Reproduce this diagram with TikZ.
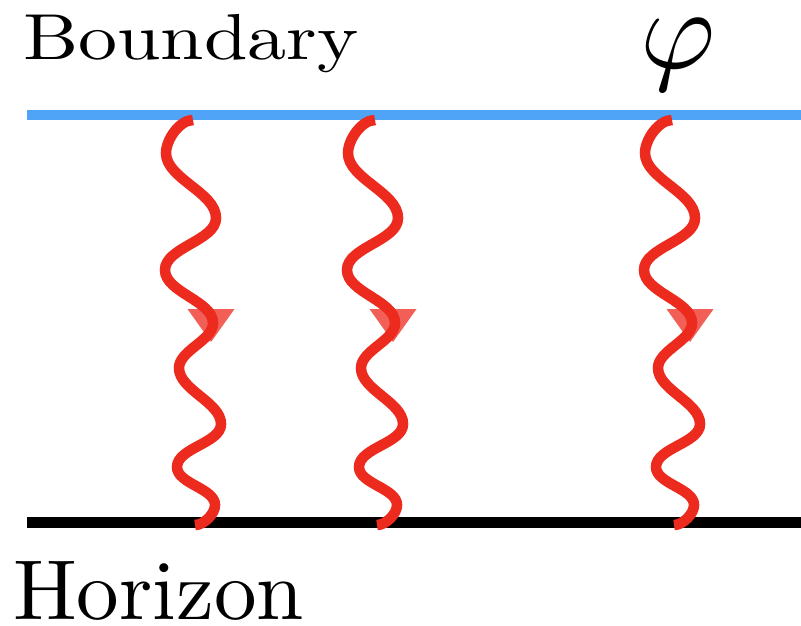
\documentclass[tikz,border=0pt]{standalone}
\usepackage{amsmath,amssymb}
\usepackage{xcolor}
\usepackage{tikz}
\usetikzlibrary{calc,positioning}
\definecolor{bdryblue}{RGB}{79,164,247}
\definecolor{wavered}{RGB}{236,42,30}

\begin{document}
\begin{tikzpicture}[
  wave/.style={wavered,line width=3pt,looseness=0.8},
  flowtri/.style={fill=wavered,fill opacity=0.75},
  edge/.style={line width=3.1pt}]
\useasboundingbox (0,0) rectangle (8.01,6.25);
% boundary and horizon
\draw[edge,bdryblue] (0.27,5.10) coordinate (bl) -- (8.01,5.10) coordinate (br);
\draw[edge,black] (0.27,1.025) coordinate (hl) -- (8.01,1.025) coordinate (hr);
\node[anchor=base west,inner sep=0] (bdry) at (0.223,5.655) {\scalebox{2.22}[1.85]{Boundary}};
\node[anchor=base west,inner sep=0] (hor) at (0.123,0.06) {\scalebox{2.42}{Horizon}};
\node[anchor=base west,inner sep=0] (phi) at (6.40,5.57) {\scalebox{3.27}{$\varphi$}};
% infalling waves
\foreach \x/\n in {1.93/a,3.75/b,6.72/c}{
\begin{scope}[xshift=\x cm]
  \coordinate (s\n) at (0,5.05);
  \coordinate (e\n) at (0.02,1.00);
  \coordinate (m\n) at (0.18,2.83);
  \draw[wave] (s\n) to[out=180,in=90] (-0.27,4.72)
    to[out=-90,in=90] (0.23,4.07)
    to[out=-90,in=90] (-0.28,3.55)
    to[out=-90,in=90] (0.20,3.02)
    to[out=-90,in=90] (-0.14,2.57)
    to[out=-90,in=90] (0.28,2.01)
    to[out=-90,in=90] (-0.16,1.58)
    to[out=-90,in=90] (0.22,1.20)
    to[out=-90,in=0] (e\n);
  \fill[flowtri] (m\n) -- ($(m\n)+(-0.235,0.33)$) -- ($(m\n)+(0.235,0.33)$) -- cycle;
\end{scope}}
\end{tikzpicture}
\end{document}
